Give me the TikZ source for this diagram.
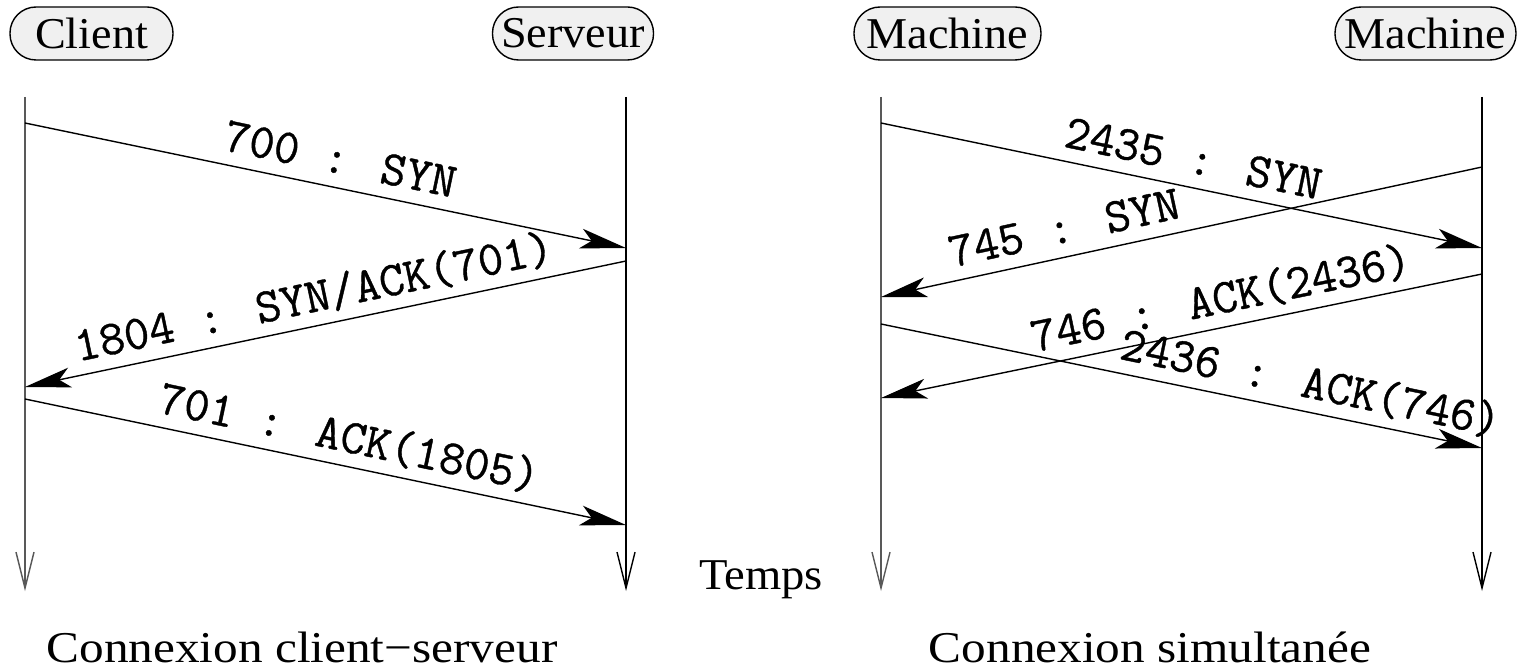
\documentclass[tikz,border=0pt]{standalone}
\usepackage{fontspec}
\setmainfont{Liberation Serif}
\newfontfamily\msgfont{Latin Modern Mono}[FakeBold=0.8]
\usetikzlibrary{arrows.meta}
% serif labels are set slightly wide
\newcommand{\widetext}[2]{\scalebox{#1}[1]{#2}}
\begin{document}
\begin{tikzpicture}[x=1pt,y=-1pt,
  actor/.style={draw=black, line width=1.4pt, fill=black!6, rounded corners=26pt,
    minimum height=53pt, inner sep=0pt, font=\fontsize{44}{48}\selectfont},
  lifeline/.style={line width=1.4pt,
    -{Straight Barb[length=36pt,width=18pt,line width=1.4pt]}},
  lifelinel/.style={lifeline, draw=black!65, line width=2pt},
  msg/.style={line width=1.4pt, -{Stealth[length=46pt,width=20pt,inset=11pt]}},
  lbl/.style={font=\msgfont\fontsize{49}{49}\selectfont, inner sep=0pt,
    sloped, anchor=base},
  caption/.style={font=\fontsize{44}{48}\selectfont, inner sep=0pt, anchor=base}
]
\useasboundingbox (0,0) rectangle (1517,668);

% ---- participants
\node[actor, minimum width=163pt] (client)   at (91.5,33.5) {\widetext{1.05}{Client}};
\node[actor, minimum width=161pt] (serveur)  at (573,33.5)  {\widetext{1.05}{Serveur}};
\node[actor, minimum width=187pt] (machA)    at (947.5,33.5) {\widetext{1.05}{Machine}};
\node[actor, minimum width=181pt] (machB)    at (1425.5,33.5) {\widetext{1.05}{Machine}};

% ---- time axes
\coordinate (ct) at (25,97);   \coordinate (cb) at (25,591);
\coordinate (st) at (626,97);  \coordinate (sb) at (626,591);
\coordinate (at) at (881,97);  \coordinate (ab) at (881,591);
\coordinate (bt) at (1482,97); \coordinate (bb) at (1482,591);
\draw[lifelinel] (ct) -- (cb);
\draw[lifeline]  (st) -- (sb);
\draw[lifelinel] (at) -- (ab);
\draw[lifeline]  (bt) -- (bb);

% ---- client / server handshake
\coordinate (c1) at (25,123);  \coordinate (s1) at (626,248);
\coordinate (s2) at (626,261); \coordinate (c2) at (25,387);
\coordinate (c3) at (25,399);  \coordinate (s3) at (626,525);
\draw[msg] (c1) -- node[lbl, pos=0.515] {\raisebox{14pt}{700 : SYN}} (s1);
\draw[msg] (s2) -- node[lbl, pos=0.51] {\raisebox{14pt}{1804 : SYN/ACK(701)}} (c2);
\draw[msg] (c3) -- node[lbl, pos=0.53] {\raisebox{14pt}{701 : ACK(1805)}} (s3);

% ---- simultaneous open
\coordinate (a1) at (881,123);  \coordinate (b1) at (1482,248);
\coordinate (b2) at (1482,167); \coordinate (a2) at (881,297);
\coordinate (b3) at (1482,274); \coordinate (a3) at (881,398);
\coordinate (a4) at (881,324);  \coordinate (b4) at (1482,448);
\draw[msg] (a1) -- node[lbl, pos=0.51] {\raisebox{14pt}{2435 : SYN}} (b1);
\draw[msg] (b2) -- node[lbl, pos=0.685] {\raisebox{14pt}{745 : SYN}} (a2);
\draw[msg] (b3) -- node[lbl, pos=0.425] {\raisebox{14pt}{746 : ACK(2436)}} (a3);
\draw[msg] (a4) -- node[lbl, pos=0.705] {\raisebox{14pt}{2436 : ACK(746)}} (b4);

% ---- captions
\node[caption] (temps) at (761,589) {\widetext{1.06}{Temps}};
\node[caption] (capA)  at (302,662) {\widetext{1.12}{Connexion client{\char"2212}serveur}};
\node[caption] (capB)  at (1150,662) {\widetext{1.12}{Connexion simultanée}};
\end{tikzpicture}
\end{document}
